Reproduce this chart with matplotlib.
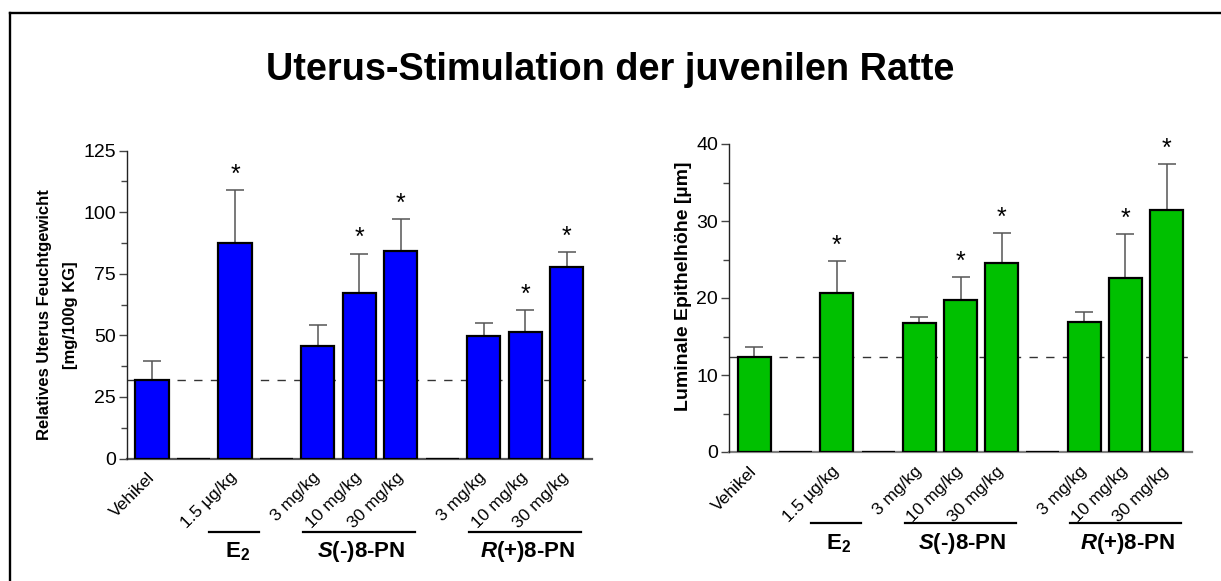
import matplotlib
matplotlib.use("Agg")
import matplotlib.pyplot as plt
from matplotlib.ticker import MultipleLocator
from matplotlib.lines import Line2D
import matplotlib.transforms as mtransforms

plt.rcParams['font.family'] = ['Liberation Sans', 'DejaVu Sans']
plt.rcParams['mathtext.fontset'] = 'custom'
plt.rcParams['mathtext.rm'] = 'Liberation Sans'
plt.rcParams['mathtext.bf'] = 'Liberation Sans:bold'
plt.rcParams['mathtext.it'] = 'Liberation Sans:italic'
plt.rcParams['mathtext.bfit'] = 'Liberation Sans:italic:bold'

# ---------------- data ----------------
title = "Uterus-Stimulation der juvenilen Ratte"
tick_labels = ['Vehikel', '', '1.5 µg/kg', '', '3 mg/kg', '10 mg/kg', '30 mg/kg',
               '', '3 mg/kg', '10 mg/kg', '30 mg/kg']
significant = [False, False, True, False, False, True, True, False, False, True, True]

weight = [32.0, 0, 87.7, 0, 45.6, 67.3, 84.1, 0, 49.8, 51.3, 77.8]
weight_err = [7.4, 0, 21.4, 0, 8.8, 15.9, 13.1, 0, 5.3, 9.0, 6.1]
weight_ref = 32.0

epithel = [12.3, 0, 20.7, 0, 16.7, 19.7, 24.6, 0, 16.9, 22.6, 31.4]
epithel_err = [1.4, 0, 4.1, 0, 0.8, 3.0, 3.8, 0, 1.3, 5.7, 6.0]
epithel_ref = 12.3

groups = ['$\\mathbf{E_2}$', '$\\mathbfit{S}$(-)8-PN', '$\\mathbfit{R}$(+)8-PN']
group_slots = [(2, 2), (4, 6), (8, 10)]

W, H = 1221, 581
fig = plt.figure(figsize=(W / 100, H / 100), dpi=100)

# frame (left and top edges visible)
fig.add_artist(Line2D([9.5 / W, 9.5 / W], [0, 1 - 13 / H], transform=fig.transFigure,
                      color='black', lw=1.7))
fig.add_artist(Line2D([9.5 / W, 1], [1 - 13 / H, 1 - 13 / H], transform=fig.transFigure,
                      color='black', lw=1.7))

fig.text(0.5, 1 - 70 / H, title, ha='center', va='center', fontsize=27.3, fontweight='bold')


def make_panel(rect, values, errs, ref, color, ymax, major, minor, bottom_color,
               line_y, text_y):
    ax = fig.add_axes(rect)
    x = list(range(len(values)))
    ax.axhline(ref, color='#333333', lw=1.0, dashes=(6, 6), zorder=1)
    ax.bar(x, values, width=0.8, color=color, edgecolor='black', linewidth=1.6, zorder=3)
    for xi, v, e in zip(x, values, errs):
        if e > 0:
            ax.errorbar(xi, v, yerr=[[0], [e]], fmt='none', ecolor='#555555',
                        elinewidth=1.1, capsize=6.5, capthick=1.1, zorder=2)
    for xi, v, e, s in zip(x, values, errs, significant):
        if s:
            ax.annotate('*', xy=(xi, v + e), xytext=(0, 6), textcoords='offset points',
                        ha='center', va='baseline', fontsize=18, zorder=5)
    ax.set_xlim(-0.605, len(values) - 1 + 0.605)
    ax.set_ylim(0, ymax)
    ax.yaxis.set_major_locator(MultipleLocator(major))
    ax.yaxis.set_minor_locator(MultipleLocator(minor))
    ax.set_xticks(x)
    ax.set_xticklabels(tick_labels, rotation=45, ha='right', va='center',
                       rotation_mode='anchor', fontsize=12.5)
    ax.tick_params(axis='x', length=0, pad=12)
    ax.tick_params(axis='y', which='major', length=6, width=1, color='#444444',
                   labelsize=14, pad=2)
    ax.tick_params(axis='y', which='minor', length=4, width=1, color='#444444')
    for sp in ['top', 'right']:
        ax.spines[sp].set_visible(False)
    ax.spines['left'].set_color('#222222')
    ax.spines['left'].set_linewidth(1.0)
    ax.spines['bottom'].set_color(bottom_color)
    ax.spines['bottom'].set_linewidth(1.6)
    ax.spines['bottom'].set_zorder(2)

    tr = mtransforms.blended_transform_factory(ax.transData, fig.transFigure)
    for name, (a, b) in zip(groups, group_slots):
        if a == b:
            x0, x1 = a - 0.62, a + 0.58
        else:
            x0, x1 = a - 0.35, b + 0.34
        fig.add_artist(Line2D([x0, x1], [1 - line_y / H] * 2, transform=tr,
                              color='black', lw=1.6))
        fig.text((a + b) / 2 + 0.05, 1 - text_y / H, name, transform=tr, ha='center',
                 va='center', fontsize=16, fontweight='bold')
    return ax


ax1 = make_panel([127 / W, 1 - 458.5 / H, (591.7 - 127) / W, (458.5 - 150.7) / H],
                 weight, weight_err, weight_ref, '#0000FF', 125, 25, 12.5, '#555555',
                 531.5, 552)
ax2 = make_panel([729.3 / W, 1 - 452 / H, (1191.7 - 729.3) / W, (452 - 144) / H],
                 epithel, epithel_err, epithel_ref, '#00C000', 40, 10, 5, '#808080',
                 522.7, 544)

fig.text(45 / W, 1 - 315 / H, 'Relatives Uterus Feuchtgewicht', rotation=90,
         ha='center', va='center', fontsize=12, fontweight='bold')
fig.text(70 / W, 1 - 315 / H, '[mg/100g KG]', rotation=90,
         ha='center', va='center', fontsize=12, fontweight='bold')
fig.text(684 / W, 1 - 286 / H, 'Luminale Epithelhöhe [µm]', rotation=90,
         ha='center', va='center', fontsize=14, fontweight='bold')

fig.savefig('out.png', dpi=100)
